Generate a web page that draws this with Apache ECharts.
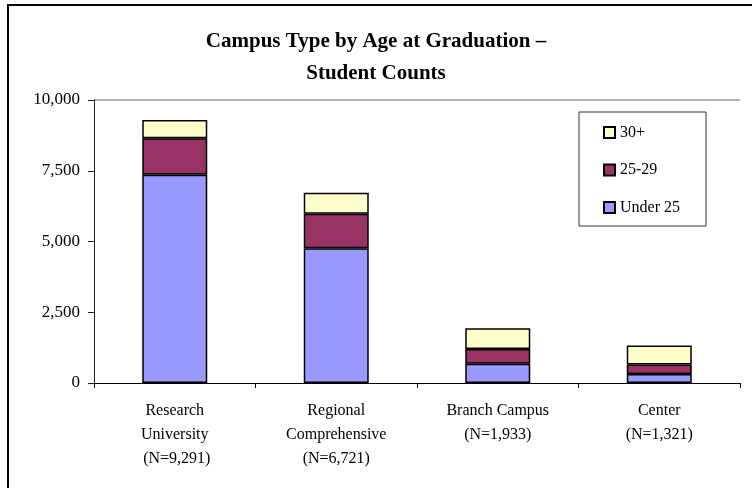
<!DOCTYPE html>
<html>
<head>
<meta charset="utf-8">
<script src="https://cdn.jsdelivr.net/npm/echarts@6/dist/echarts.min.js"></script>
<style>
html,body{margin:0;padding:0;background:#fff;}
#chart{width:752px;height:488px;}
</style>
</head>
<body>
<div id="chart"></div>
<script>
var categories = [
  'Research\nUniversity\n (N=9,291)',
  'Regional\nComprehensive\n(N=6,721)',
  'Branch Campus\n(N=1,933)',
  'Center\n(N=1,321)'
];
var under25 = [7360, 4760, 680, 320];
var age25to29 = [1290, 1220, 520, 330];
var age30plus = [641, 741, 733, 671];
var yTicks = [0, 2500, 5000, 7500, 10000];

var FONT = "'Liberation Serif', 'Times New Roman', serif";

function fmt(v) {
  return String(v).replace(/\B(?=(\d{3})+(?!\d))/g, ',');
}

var chart = echarts.init(document.getElementById('chart'), null, {renderer: 'canvas'});
var barStyle = function (color) {
  return {color: color, borderColor: '#000', borderWidth: 1.5};
};
chart.setOption({
  animation: false,
  backgroundColor: '#fff',
  graphic: [{
    type: 'rect',
    shape: {x: 8, y: 5, width: 800, height: 600},
    style: {fill: 'none', stroke: '#000', lineWidth: 2},
    silent: true
  }],
  title: {
    text: 'Campus Type by Age at Graduation –\nStudent Counts',
    left: 'center',
    top: 21,
    textStyle: {fontFamily: FONT, fontSize: 21, fontWeight: 'bold', color: '#000', lineHeight: 32}
  },
  legend: {
    orient: 'vertical',
    left: 579,
    top: 112,
    padding: [11.5, 26, 9.5, 24],
    itemGap: 19.5,
    itemWidth: 11,
    itemHeight: 11,
    icon: 'rect',
    borderColor: '#333',
    borderWidth: 1,
    data: ['30+', '25-29', 'Under 25'],
    textStyle: {fontFamily: FONT, fontSize: 16, color: '#000', lineHeight: 18}
  },
  grid: {left: 94, right: 12, top: 100, bottom: 105, containLabel: false},
  xAxis: {
    type: 'category',
    data: categories,
    axisLine: {lineStyle: {color: '#000', width: 1}},
    axisTick: {show: true, length: 5, lineStyle: {color: '#000'}},
    axisLabel: {fontFamily: FONT, fontSize: 16, color: '#000', lineHeight: 24, margin: 16, interval: 0}
  },
  yAxis: {
    type: 'value',
    min: yTicks[0],
    max: yTicks[yTicks.length - 1],
    interval: 2500,
    axisLine: {show: true, lineStyle: {color: '#222', width: 1}},
    axisTick: {show: true, length: 6, lineStyle: {color: '#222'}},
    axisLabel: {fontFamily: FONT, fontSize: 17, color: '#000', margin: 14, formatter: fmt},
    splitLine: {show: true, lineStyle: {color: ['transparent', 'transparent', 'transparent', 'transparent', '#999'], width: 1.5}}
  },
  series: [
    {name: 'Under 25', type: 'bar', stack: 'total', barWidth: 65, data: under25, itemStyle: barStyle('#9999FF')},
    {name: '25-29', type: 'bar', stack: 'total', barWidth: 65, data: age25to29, itemStyle: barStyle('#993366')},
    {name: '30+', type: 'bar', stack: 'total', barWidth: 65, data: age30plus, itemStyle: barStyle('#FFFFCC')}
  ]
});
</script>
</body>
</html>
